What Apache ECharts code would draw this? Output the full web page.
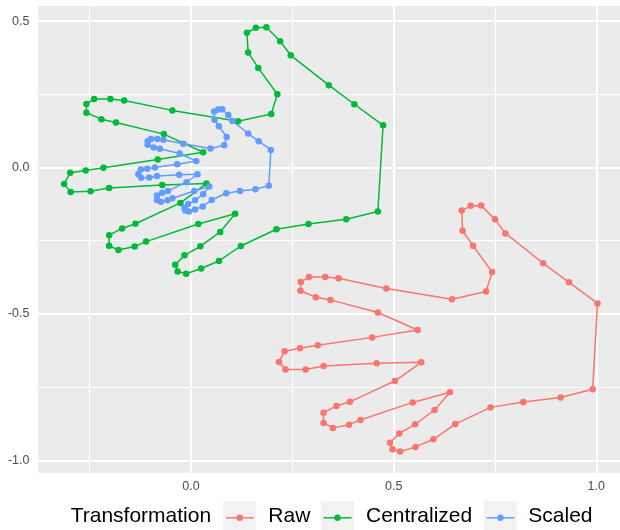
<!DOCTYPE html>
<html>
<head>
<meta charset="utf-8">
<script src="https://cdn.jsdelivr.net/npm/echarts@6/dist/echarts.min.js"></script>
<style>
  html, body { margin: 0; padding: 0; background: #ffffff; }
  #chart { width: 620px; height: 530px; }
</style>
</head>
<body>
<div id="chart"></div>
<script>
// Hand outlines (56 landmarks each) under three transformations.
const transformations = ['Raw', 'Centralized', 'Scaled'];

const rawX = [0.668, 0.690, 0.716, 0.750, 0.776, 0.869, 0.933, 1.003, 0.991, 0.912, 0.820, 0.739, 0.652, 0.598,
  0.554, 0.516, 0.497, 0.491, 0.514, 0.553, 0.601, 0.639, 0.547, 0.418, 0.390, 0.350, 0.327, 0.327,
  0.359, 0.392, 0.503, 0.568, 0.458, 0.327, 0.283, 0.233, 0.217, 0.231, 0.269, 0.313, 0.447, 0.559,
  0.461, 0.344, 0.308, 0.270, 0.271, 0.291, 0.331, 0.364, 0.482, 0.644, 0.728, 0.743, 0.696, 0.670];
const rawY = [-0.147, -0.131, -0.130, -0.177, -0.225, -0.327, -0.392, -0.464, -0.757, -0.785, -0.801, -0.819, -0.876, -0.928,
  -0.954, -0.970, -0.962, -0.940, -0.908, -0.877, -0.828, -0.767, -0.802, -0.862, -0.878, -0.889, -0.872, -0.837,
  -0.814, -0.800, -0.729, -0.665, -0.668, -0.678, -0.690, -0.690, -0.664, -0.627, -0.617, -0.607, -0.580, -0.555,
  -0.495, -0.452, -0.443, -0.421, -0.391, -0.374, -0.374, -0.378, -0.413, -0.450, -0.423, -0.357, -0.267, -0.216];

const centX = [0.138, 0.160, 0.186, 0.220, 0.246, 0.340, 0.403, 0.474, 0.461, 0.383, 0.290, 0.211, 0.123, 0.069,
  0.025, -0.012, -0.033, -0.039, -0.016, 0.023, 0.072, 0.109, 0.018, -0.111, -0.139, -0.179, -0.202, -0.202,
  -0.170, -0.137, -0.026, 0.038, -0.071, -0.202, -0.248, -0.297, -0.313, -0.298, -0.260, -0.216, -0.082, 0.030,
  -0.067, -0.185, -0.221, -0.258, -0.258, -0.239, -0.199, -0.165, -0.046, 0.116, 0.198, 0.213, 0.166, 0.141];
const centY = [0.460, 0.477, 0.479, 0.431, 0.383, 0.281, 0.216, 0.144, -0.150, -0.177, -0.193, -0.211, -0.268, -0.319,
  -0.345, -0.363, -0.355, -0.332, -0.300, -0.269, -0.220, -0.158, -0.193, -0.253, -0.270, -0.282, -0.267, -0.231,
  -0.208, -0.192, -0.121, -0.055, -0.060, -0.070, -0.081, -0.084, -0.056, -0.018, -0.010, -0.001, 0.027, 0.052,
  0.114, 0.154, 0.165, 0.187, 0.217, 0.234, 0.234, 0.229, 0.195, 0.158, 0.183, 0.250, 0.340, 0.393];

const scaledX = [0.057, 0.067, 0.077, 0.092, 0.102, 0.141, 0.167, 0.197, 0.192, 0.159, 0.121, 0.087, 0.051, 0.029,
  0.010, -0.005, -0.014, -0.016, -0.007, 0.010, 0.030, 0.045, 0.008, -0.046, -0.058, -0.074, -0.084, -0.084,
  -0.071, -0.057, -0.011, 0.016, -0.029, -0.084, -0.103, -0.123, -0.130, -0.124, -0.108, -0.089, -0.034, 0.013,
  -0.028, -0.077, -0.092, -0.107, -0.107, -0.099, -0.083, -0.068, -0.019, 0.048, 0.082, 0.088, 0.069, 0.058];
const scaledY = [0.191, 0.198, 0.199, 0.179, 0.159, 0.116, 0.090, 0.060, -0.062, -0.074, -0.080, -0.088, -0.111, -0.133,
  -0.143, -0.150, -0.147, -0.138, -0.125, -0.112, -0.091, -0.065, -0.080, -0.105, -0.112, -0.117, -0.111, -0.096,
  -0.086, -0.080, -0.050, -0.023, -0.025, -0.029, -0.034, -0.035, -0.023, -0.007, -0.004, 0.000, 0.011, 0.022,
  0.048, 0.064, 0.068, 0.078, 0.090, 0.097, 0.097, 0.095, 0.081, 0.065, 0.076, 0.104, 0.141, 0.163];

// Axis breaks
const xMajor = [0, 0.5, 1.0];
const xMinor = [-0.25, 0.25, 0.75];
const yMajor = [-1.0, -0.5, 0, 0.5];
const yMinor = [-0.75, -0.25, 0.25];

const palette = ['#F8766D', '#00BA38', '#619CFF'];
const FONT = '"Liberation Sans", Arial, sans-serif';

const shapes = [[rawX, rawY], [centX, centY], [scaledX, scaledY]];
const pairs = shapes.map(([xs, ys]) => xs.map((x, i) => [x, ys[i]]));

const chart = echarts.init(document.getElementById('chart'), null, { renderer: 'canvas' });

const gridLines = [];
xMinor.forEach(v => gridLines.push({ xAxis: v, lineStyle: { color: '#ffffff', width: 1, type: 'solid' } }));
yMinor.forEach(v => gridLines.push({ yAxis: v, lineStyle: { color: '#ffffff', width: 1, type: 'solid' } }));
xMajor.forEach(v => gridLines.push({ xAxis: v, lineStyle: { color: '#ffffff', width: 2, type: 'solid' } }));
yMajor.forEach(v => gridLines.push({ yAxis: v, lineStyle: { color: '#ffffff', width: 2, type: 'solid' } }));

const series = [{
  type: 'scatter',
  data: [],
  z: 1,
  silent: true,
  markLine: { z: 1, silent: true, symbol: 'none', animation: false, label: { show: false }, data: gridLines }
}];

// closed outlines
transformations.forEach((name, k) => {
  series.push({
    name: name,
    type: 'line',
    data: pairs[k].concat([pairs[k][0]]),
    showSymbol: false,
    symbol: 'none',
    smooth: false,
    z: 3,
    lineStyle: { color: palette[k], width: 1.5 },
    itemStyle: { color: palette[k] }
  });
});
// landmark points
transformations.forEach((name, k) => {
  series.push({
    name: name,
    type: 'scatter',
    data: pairs[k],
    symbol: 'circle',
    symbolSize: 6.5,
    z: 4,
    itemStyle: { color: palette[k], opacity: 1 }
  });
});

// legend drawn as ggplot-style keys
const keyLeft = [223.3, 321, 484];
const labelLeft = [268.3, 366, 528.3];
const legendY = 517.8;
const legendEls = [{
  type: 'text', left: 70.7, top: legendY - 12,
  style: { text: 'Transformation', font: '21px ' + FONT, fill: '#000000' }
}];
transformations.forEach((name, k) => {
  const x0 = keyLeft[k];
  legendEls.push({ type: 'rect', shape: { x: x0, y: 501, width: 33, height: 34 }, style: { fill: '#F2F2F2' } });
  legendEls.push({ type: 'line', shape: { x1: x0 + 2.5, y1: legendY, x2: x0 + 30.5, y2: legendY },
    style: { stroke: palette[k], lineWidth: 1.5 } });
  legendEls.push({ type: 'circle', shape: { cx: x0 + 16.5, cy: legendY, r: 3.2 }, style: { fill: palette[k] } });
  legendEls.push({ type: 'text', left: labelLeft[k], top: legendY - 12,
    style: { text: name, font: '21px ' + FONT, fill: '#000000' } });
});

chart.setOption({
  animation: false,
  backgroundColor: '#ffffff',
  textStyle: { fontFamily: FONT },
  grid: {
    left: 38, right: 0, top: 6, bottom: 57.3,
    show: true, backgroundColor: '#EBEBEB', borderWidth: 0
  },
  xAxis: {
    type: 'value',
    min: -0.3775, max: 1.0585,
    axisLine: { show: false },
    splitLine: { show: false },
    axisTick: { show: true, customValues: xMajor, length: 4.5, lineStyle: { color: '#333333', width: 1 } },
    axisLabel: { show: true, customValues: xMajor, margin: 7, color: '#4D4D4D', fontSize: 12.5, fontFamily: FONT,
      formatter: v => v.toFixed(1) }
  },
  yAxis: {
    type: 'value',
    min: -1.042, max: 0.5514,
    axisLine: { show: false },
    splitLine: { show: false },
    axisTick: { show: true, customValues: yMajor, length: 4.5, lineStyle: { color: '#333333', width: 1 } },
    axisLabel: { show: true, customValues: yMajor, margin: 8.5, color: '#4D4D4D', fontSize: 12.5, fontFamily: FONT,
      formatter: v => v.toFixed(1) }
  },
  series: series,
  graphic: legendEls
});
</script>
</body>
</html>
